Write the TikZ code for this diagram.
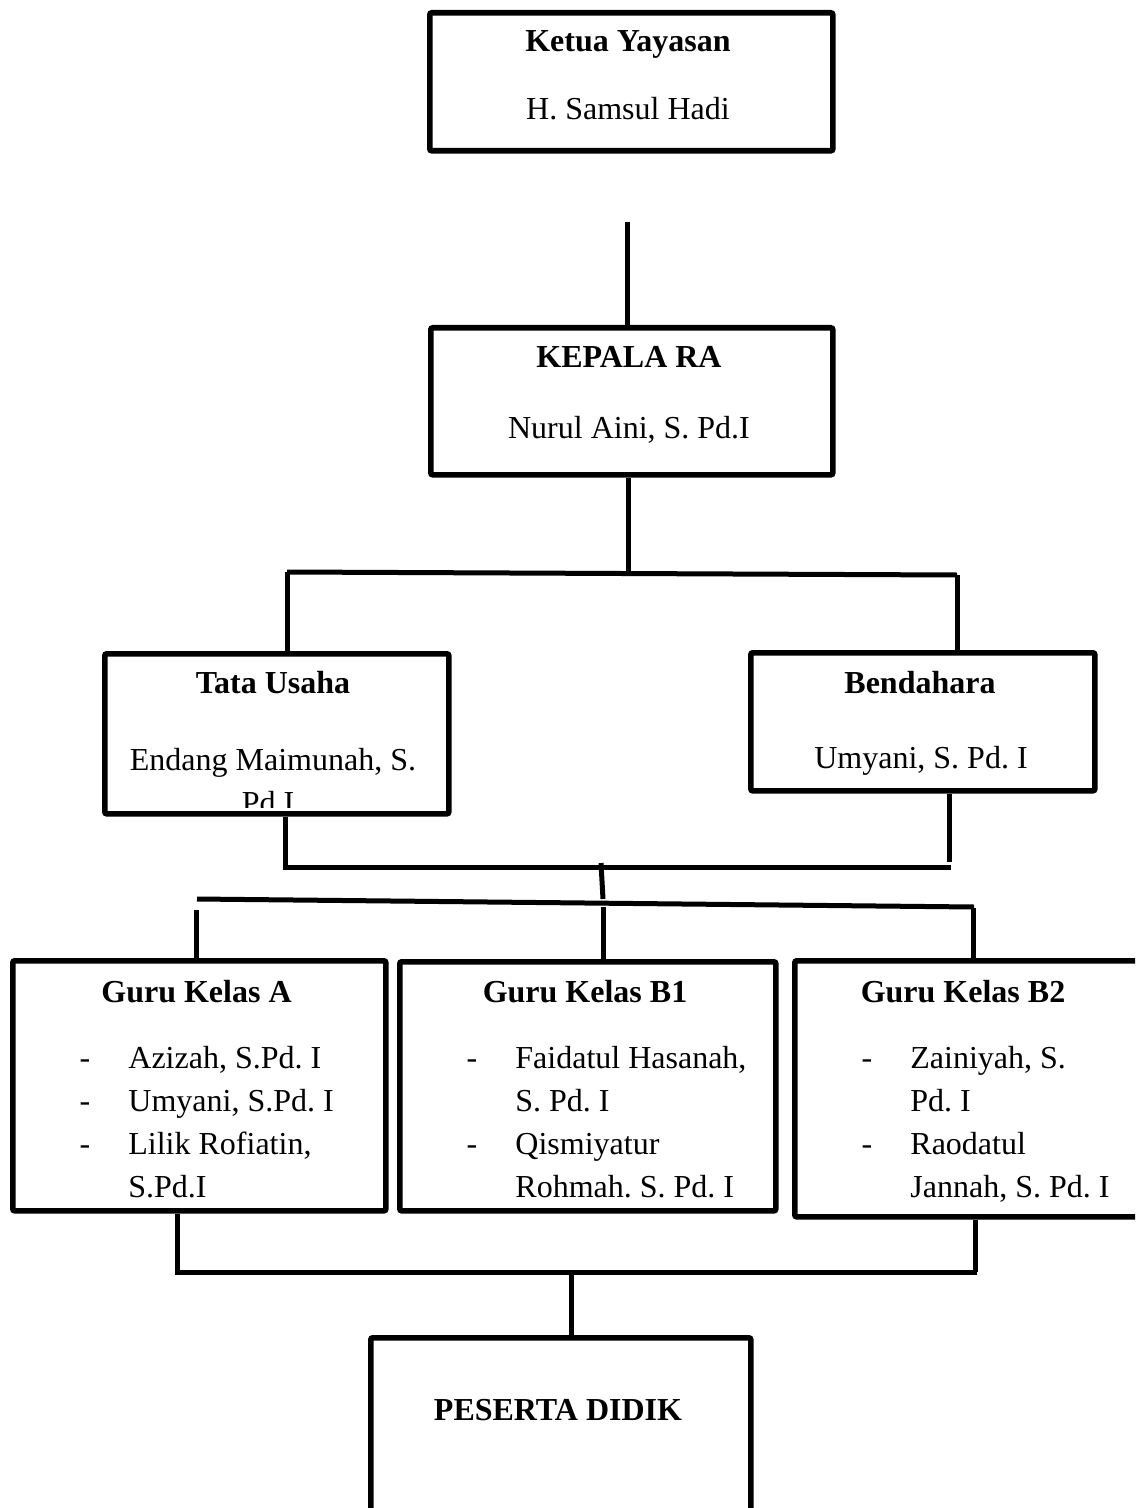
\documentclass[tikz,border=0pt]{standalone}
\usepackage{fontspec}
\setmainfont{Liberation Serif}
\begin{document}
\frenchspacing
\begin{tikzpicture}[x=0.5pt,y=-0.5pt,
  box/.style={draw, line width=2.8pt, rounded corners=1pt, rectangle, inner sep=0pt, anchor=north west},
  conn/.style={line width=2.5pt},
  title/.style={font=\fontsize{16}{20}\selectfont\bfseries, anchor=base, inner sep=0pt},
  txt/.style={font=\fontsize{16}{20}\selectfont, anchor=base, inner sep=0pt},
  item/.style={font=\fontsize{16}{20}\selectfont, anchor=base west, inner sep=0pt}]
\useasboundingbox (0,0) rectangle (1135,1508);
\clip (0,0) rectangle (1135,1508);
\fill[white] (0,0) rectangle (1135,1508);

% boxes
\node[box, minimum width=201.5pt, minimum height=69pt] (ketua) at (427,10) {};
\node[box, minimum width=201pt, minimum height=73.5pt] (kepala) at (428,325) {};
\node[box, minimum width=172pt, minimum height=80pt] (tu) at (102,651) {};
\node[box, minimum width=172pt, minimum height=69pt] (bend) at (748,650) {};
\node[box, minimum width=186.5pt, minimum height=125pt] (ga) at (10,958) {};
\node[box, minimum width=188pt, minimum height=124.5pt] (gb1) at (397,959) {};
\node[box, minimum width=172pt, minimum height=128pt] (gb2) at (792,958) {};
\node[box, minimum width=190pt, minimum height=100pt] (peserta) at (368,1335) {};

% texts
\node[title] (t1) at (628,52) {Ketua Yayasan};
\node[txt] (s1) at (628,120) {H. Samsul Hadi};
\node[title] (t2) at (629,367) {KEPALA RA};
\node[txt] (s2) at (629,438) {Nurul Aini, S. Pd.I};
\node[title] (t3) at (273,693) {Tata Usaha};
\node[txt] (s3) at (273,770) {Endang Maimunah, S.};
\begin{scope}
\clip (104,653) rectangle (444,807);
\node[txt] (s3b) at (268,813) {Pd I};
\end{scope}
\node[title] (t4) at (920,693) {Bendahara};
\node[txt] (s4) at (921,768) {Umyani, S. Pd. I};

\node[title] (t5) at (196.5,1002) {Guru Kelas A};
\node[txt] (d5a) at (85,1068) {-};
\node[txt] (d5b) at (85,1111) {-};
\node[txt] (d5c) at (85,1154) {-};
\node[item] (i5a) at (128,1068) {Azizah, S.Pd. I};
\node[item] (i5b) at (128,1111) {Umyani, S.Pd. I};
\node[item] (i5c) at (128,1154) {Lilik Rofiatin,};
\node[item] (i5d) at (128,1197) {S.Pd.I};

\node[title] (t6) at (585,1002) {Guru Kelas B1};
\node[txt] (d6a) at (472,1068) {-};
\node[txt] (d6b) at (472,1154) {-};
\node[item] (i6a) at (515,1068) {Faidatul Hasanah,};
\node[item] (i6b) at (515,1111) {S. Pd. I};
\node[item] (i6c) at (515,1154) {Qismiyatur};
\node[item] (i6d) at (515,1197) {Rohmah. S. Pd. I};

\node[title] (t7) at (963,1002) {Guru Kelas B2};
\node[txt] (d7a) at (867,1068) {-};
\node[txt] (d7b) at (867,1154) {-};
\node[item] (i7a) at (910,1068) {Zainiyah, S.};
\node[item] (i7b) at (910,1111) {Pd. I};
\node[item] (i7c) at (910,1154) {Raodatul};
\node[item] (i7d) at (910,1197) {Jannah, S. Pd. I};

\node[title] (t8) at (558,1420) {PESERTA DIDIK};

% connectors
\coordinate (k0) at (627,222);
\draw[conn] (k0) -- (k0 |- kepala.north);
\coordinate (j1) at (628,573);
\draw[conn] (j1 |- kepala.south) -- (j1);
\coordinate (hl) at (287,572);
\coordinate (hr) at (957,575);
\draw[conn] (hl) -- (hr);
\draw[conn] (hl) -- (hl |- tu.north);
\draw[conn] (hr) -- (hr |- bend.north);

\coordinate (bl) at (285,867);
\coordinate (br) at (951,867);
\draw[conn] (bl |- tu.south) -- (bl) -- (br);
\coordinate (bv) at (949,862);
\draw[conn] (bv |- bend.south) -- (bv);
\coordinate (m1) at (601,863);
\coordinate (m2) at (603,899);
\draw[conn] (m1) -- (m2);
\coordinate (gl) at (197,899);
\coordinate (gr) at (974,907);
\draw[conn] (gl) -- (gr);
\coordinate (va) at (196,910);
\coordinate (vb) at (603,907);
\coordinate (vc) at (973,908);
\draw[conn] (va) -- (va |- ga.north);
\draw[conn] (vb) -- (vb |- gb1.north);
\draw[conn] (vc) -- (vc |- gb2.north);

\coordinate (ql) at (177,1272);
\coordinate (qr) at (977,1272);
\coordinate (qv) at (975,1272);
\coordinate (qm) at (571,1272);
\draw[conn] (ql |- ga.south) -- (ql) -- (qr);
\draw[conn] (qv |- gb2.south) -- (qv);
\draw[conn] (qm) -- (qm |- peserta.north);
\end{tikzpicture}
\end{document}
